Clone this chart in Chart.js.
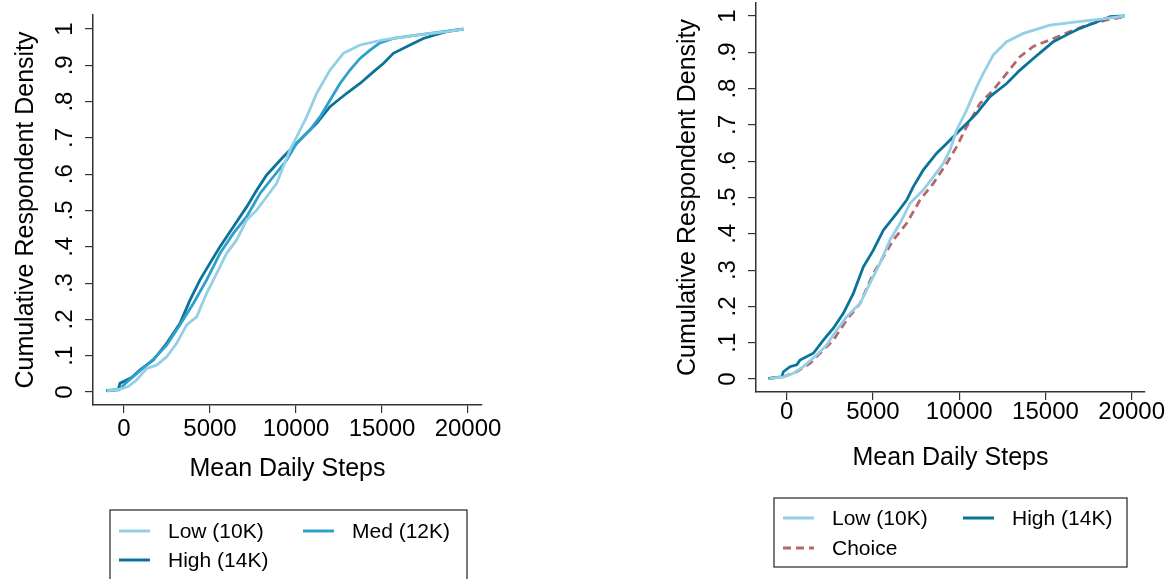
<!DOCTYPE html>
<html>
<head>
<meta charset="utf-8">
<script src="https://cdn.jsdelivr.net/npm/chart.js@4/dist/chart.umd.min.js"></script>
<style>
  html, body { margin: 0; padding: 0; background: #fff; }
  body { width: 1173px; height: 579px; position: relative; overflow: hidden; }
  canvas { position: absolute; top: 0; }
  #leftChart { left: 0; }
  #rightChart { left: 586px; }
</style>
</head>
<body>
<canvas id="leftChart" width="586" height="579"></canvas>
<canvas id="rightChart" width="587" height="579"></canvas>
<script>
// Tick values and labels
const xTicks = [0, 5000, 10000, 15000, 20000];
const yTicks = [0, 0.1, 0.2, 0.3, 0.4, 0.5, 0.6, 0.7, 0.8, 0.9, 1];
const yTickLabels = ["0", ".1", ".2", ".3", ".4", ".5", ".6", ".7", ".8", ".9", "1"];
const xTitle = "Mean Daily Steps";
const yTitle = "Cumulative Respondent Density";

// Left panel: Low / Med / High goals
const leftLowSteps = [-1000, -233, 252, 736, 1317, 1899, 2481, 3062, 3643, 4225, 4806, 5388, 5969, 6550, 7132, 7713, 8295, 8876, 9264, 9651, 10039, 10620, 11202, 11977, 12752, 13721, 15078, 17016, 18760, 19729];
const leftLowCdf = [0.003, 0.008, 0.015, 0.033, 0.065, 0.074, 0.097, 0.134, 0.185, 0.207, 0.272, 0.327, 0.382, 0.419, 0.474, 0.501, 0.538, 0.575, 0.621, 0.667, 0.703, 0.758, 0.823, 0.887, 0.933, 0.956, 0.970, 0.983, 0.993, 1.0];

const leftMedSteps = [-1000, -300, 155, 930, 1705, 2481, 3256, 4031, 4806, 5581, 6357, 7132, 7907, 8682, 9457, 10039, 10814, 11395, 11977, 12558, 13140, 13721, 14302, 14884, 15659, 17016, 18566, 19729];
const leftMedCdf = [0.003, 0.006, 0.027, 0.059, 0.090, 0.129, 0.185, 0.244, 0.309, 0.382, 0.437, 0.483, 0.547, 0.593, 0.639, 0.685, 0.722, 0.758, 0.804, 0.850, 0.887, 0.919, 0.942, 0.962, 0.974, 0.983, 0.993, 1.0];

const leftHighSteps = [-1047, -330, -233, 155, 446, 930, 1705, 2481, 3256, 3837, 4419, 5000, 5581, 6357, 7132, 7713, 8295, 9264, 10039, 10620, 11202, 11977, 12946, 13721, 14496, 15078, 15659, 16628, 17403, 18178, 18760, 19729];
const leftHighCdf = [0.004, 0.007, 0.024, 0.033, 0.040, 0.061, 0.088, 0.134, 0.189, 0.253, 0.309, 0.355, 0.400, 0.455, 0.510, 0.556, 0.598, 0.648, 0.685, 0.713, 0.740, 0.786, 0.823, 0.850, 0.882, 0.905, 0.933, 0.956, 0.974, 0.985, 0.993, 1.0];

// Right panel: Low / High goals and Choice
const rightLowSteps = [-1000, -193, 386, 966, 1739, 2318, 2898, 3478, 4250, 4830, 5410, 5989, 6569, 7148, 7921, 8501, 9080, 9467, 9853, 10433, 11012, 11399, 11979, 12751, 13717, 15263, 16809, 18354, 19610];
const rightLowCdf = [0.002, 0.006, 0.016, 0.034, 0.066, 0.094, 0.135, 0.172, 0.208, 0.264, 0.319, 0.383, 0.429, 0.484, 0.521, 0.557, 0.594, 0.631, 0.686, 0.741, 0.805, 0.842, 0.893, 0.929, 0.952, 0.975, 0.984, 0.992, 1.0];

const rightHighSteps = [-1063, -290, -193, 193, 580, 773, 1546, 2125, 2705, 3284, 3864, 4444, 5023, 5603, 6376, 6955, 7342, 7921, 8694, 9274, 10046, 10433, 11012, 11785, 12751, 13524, 14297, 14876, 15456, 16229, 17002, 17774, 18547, 18740, 19610];
const rightHighCdf = [0.002, 0.006, 0.020, 0.034, 0.039, 0.052, 0.071, 0.107, 0.140, 0.181, 0.236, 0.309, 0.355, 0.410, 0.456, 0.493, 0.530, 0.576, 0.622, 0.649, 0.686, 0.704, 0.732, 0.778, 0.814, 0.851, 0.883, 0.906, 0.929, 0.948, 0.966, 0.980, 0.994, 0.998, 1.0];

const rightChoiceSteps = [-966, -193, 580, 1352, 1932, 2705, 3478, 4250, 5023, 5603, 6183, 6955, 7728, 8501, 9274, 9853, 10433, 11206, 11979, 12751, 13524, 14297, 15456, 16422, 17388, 18547, 19610];
const rightChoiceCdf = [0.002, 0.006, 0.020, 0.043, 0.071, 0.107, 0.163, 0.208, 0.291, 0.337, 0.383, 0.429, 0.493, 0.539, 0.594, 0.640, 0.695, 0.759, 0.796, 0.842, 0.888, 0.916, 0.938, 0.957, 0.975, 0.989, 0.998];

const FONT = "'Liberation Sans', Arial, sans-serif";
const AXIS_COLOR = "#333333";

function points(xs, ys) {
  return xs.map((x, i) => ({ x: x, y: ys[i] }));
}

function series(label, xs, ys, color, dash) {
  return {
    label: label,
    data: points(xs, ys),
    borderColor: color,
    backgroundColor: color,
    borderWidth: 2.8,
    borderDash: dash || [],
    pointRadius: 0,
    tension: 0,
    fill: false,
  };
}

// draws tick labels, axis titles and the boxed legend
const stataText = {
  id: "stataText",
  afterDraw(chart, args, o) {
    const ctx = chart.ctx;
    const xs = chart.scales.x;
    const ys = chart.scales.y;
    const area = chart.chartArea;
    ctx.save();
    ctx.fillStyle = "#000";

    ctx.font = "24px " + FONT;
    ctx.textAlign = "center";
    ctx.textBaseline = "alphabetic";
    xTicks.forEach((v) => {
      ctx.fillText(String(v), xs.getPixelForValue(v), o.xTickBase);
    });

    yTicks.forEach((v, i) => {
      ctx.save();
      ctx.translate(o.yTickBase, ys.getPixelForValue(v));
      ctx.rotate(-Math.PI / 2);
      ctx.fillText(yTickLabels[i], 0, 0);
      ctx.restore();
    });

    ctx.font = "25px " + FONT;
    ctx.fillText(xTitle, (area.left + area.right) / 2, o.xTitleBase);
    ctx.save();
    ctx.translate(o.yTitleBase, (area.top + area.bottom) / 2);
    ctx.rotate(-Math.PI / 2);
    ctx.fillText(yTitle, 0, 0);
    ctx.restore();

    // legend
    const lg = o.legend;
    ctx.strokeStyle = AXIS_COLOR;
    ctx.lineWidth = 1.3;
    ctx.strokeRect(lg.left, lg.top, lg.width, lg.height);
    ctx.font = "21px " + FONT;
    ctx.textAlign = "left";
    chart.data.datasets.forEach((ds, i) => {
      const col = i % 2;
      const row = Math.floor(i / 2);
      const sx = lg.colX[col];
      const sy = lg.rowY[row];
      ctx.save();
      ctx.strokeStyle = ds.borderColor;
      ctx.lineWidth = 3;
      ctx.setLineDash(ds.borderDash || []);
      ctx.beginPath();
      ctx.moveTo(sx, sy);
      ctx.lineTo(sx + 31, sy);
      ctx.stroke();
      ctx.restore();
      ctx.fillStyle = "#000";
      ctx.fillText(ds.label, sx + 49, sy + 7);
    });
    ctx.restore();
  },
};

function makeChart(id, datasets, padding, xRange, yRange, textOpts) {
  const ctx = document.getElementById(id).getContext("2d");
  return new Chart(ctx, {
    type: "line",
    data: { datasets: datasets },
    options: {
      responsive: false,
      animation: false,
      devicePixelRatio: 1,
      layout: { padding: padding },
      plugins: {
        legend: { display: false },
        tooltip: { enabled: false },
        stataText: textOpts,
      },
      scales: {
        x: {
          type: "linear",
          min: xRange[0],
          max: xRange[1],
          afterBuildTicks: (scale) => {
            scale.ticks = xTicks.map((v) => ({ value: v }));
          },
          ticks: { display: false },
          grid: { drawOnChartArea: false, drawTicks: true, tickLength: 8, color: AXIS_COLOR, lineWidth: 1.2 },
          border: { display: true, color: AXIS_COLOR, width: 1.5 },
        },
        y: {
          type: "linear",
          min: yRange[0],
          max: yRange[1],
          afterBuildTicks: (scale) => {
            scale.ticks = yTicks.map((v) => ({ value: v }));
          },
          ticks: { display: false },
          grid: { drawOnChartArea: false, drawTicks: true, tickLength: 8, color: AXIS_COLOR, lineWidth: 1.2 },
          border: { display: true, color: AXIS_COLOR, width: 1.5 },
        },
      },
    },
    plugins: [stataText],
  });
}

const LOW = "#93d0e6";
const MED = "#2f9fcc";
const HIGH = "#0b7399";
const CHOICE = "#b5676d";

makeChart(
  "leftChart",
  [
    series("Low (10K)", leftLowSteps, leftLowCdf, LOW),
    series("Med (12K)", leftMedSteps, leftMedCdf, MED),
    series("High (14K)", leftHighSteps, leftHighCdf, HIGH),
  ],
  { left: 85, right: 104, top: 15, bottom: 166 },
  [-1802, 20814],
  [-0.0358, 1.0386],
  {
    xTickBase: 436,
    xTitleBase: 476,
    yTickBase: 72,
    yTitleBase: 33,
    legend: { left: 110, top: 510, width: 357, height: 72, colX: [119, 303], rowY: [531, 560] },
  }
);

makeChart(
  "rightChart",
  [
    series("Low (10K)", rightLowSteps, rightLowCdf, LOW),
    series("High (14K)", rightHighSteps, rightHighCdf, HIGH),
    series("Choice", rightChoiceSteps, rightChoiceCdf, CHOICE, [8, 5]),
  ],
  { left: 162, right: 28, top: 3, bottom: 179 },
  [-1780, 20771],
  [-0.0358, 1.0358],
  {
    xTickBase: 419,
    xTitleBase: 465,
    yTickBase: 149,
    yTitleBase: 109,
    legend: { left: 188, top: 498, width: 353, height: 69, colX: [197, 377], rowY: [518, 548] },
  }
);
</script>
</body>
</html>
